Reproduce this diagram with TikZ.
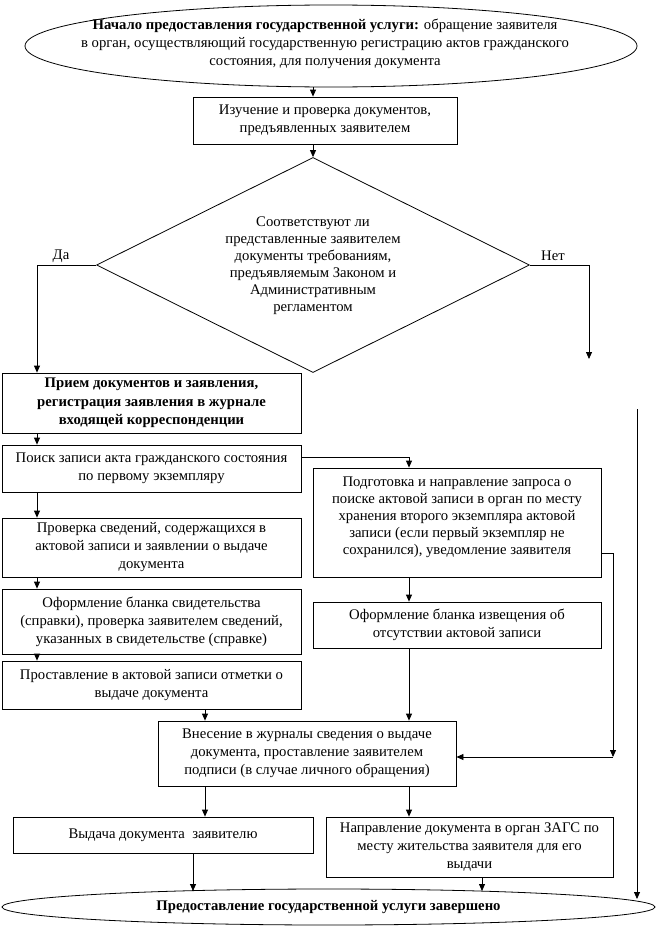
\documentclass[tikz,border=0pt]{standalone}
\usepackage{fontspec}
\setmainfont{Liberation Serif}
\usetikzlibrary{shapes.geometric,arrows.meta,calc}
\begin{document}
\begin{tikzpicture}[x=1pt,y=-1pt,
  line width=0.8pt,
  >={Triangle[length=7pt,width=6pt]},
  fnt/.style={font=\fontsize{14.7}{18}\selectfont},
  box/.style={draw, rectangle, inner sep=0pt, align=center, fnt},
  txt/.style={align=center, inner sep=0pt, fnt},
  oval/.style={draw, ellipse, inner sep=0pt}]
\useasboundingbox (0,0) rectangle (662,926);

% shapes
\node[oval, minimum width=612pt, minimum height=82pt] (start) at (331,46) {};
\node[txt] (starttxt) at (325,44) {\textbf{Начало предоставления государственной услуги:} обращение заявителя\\в орган, осуществляющий государственную регистрацию актов гражданского\\состояния, для получения документа};

\node[box, minimum width=264pt, minimum height=47pt] (check) at (325,120.5) {Изучение и проверка документов,\\предъявленных заявителем};

\node[draw, diamond, aspect=2, inner sep=0pt, minimum width=433pt, minimum height=215pt] (dec) at (313,265) {};
\node[txt, font=\fontsize{14.7}{17}\selectfont] (dectxt) at (313,266) {Соответствуют ли\\представленные заявителем\\документы требованиям,\\предъявляемым Законом и\\Административным\\регламентом};
\node[txt] (da) at (61,256) {Да};
\node[txt] (net) at (553,256) {Нет};

\node[box, minimum width=299pt, minimum height=60pt, font=\fontsize{14.7}{18.5}\selectfont\bfseries] (priem) at (151.5,403) {Прием документов и заявления,\\регистрация заявления в журнале\\входящей корреспонденции};
\node[box, minimum width=299pt, minimum height=47pt] (poisk) at (151.5,468.5) {Поиск записи акта гражданского состояния\\по первому экземпляру};
\node[box, minimum width=299pt, minimum height=59pt] (prov) at (151.5,547.5) {Проверка сведений, содержащихся в\\актовой записи и заявлении о выдаче\\документа};
\node[box, minimum width=299pt, minimum height=65pt] (oform) at (151.5,621.5) {Оформление бланка свидетельства\\(справки), проверка заявителем сведений,\\указанных в свидетельстве (справке)};
\node[box, minimum width=299pt, minimum height=48pt] (prost) at (151.5,685) {Проставление в актовой записи отметки о\\выдаче документа};

\node[box, minimum width=288pt, minimum height=109pt] (podg) at (457,522.5) {};
\node[txt, font=\fontsize{14.7}{17}\selectfont] (podgtxt) at (457,517.5) {Подготовка и направление запроса о\\поиске актовой записи в орган по месту\\хранения второго экземпляра актовой\\записи (если первый экземпляр не\\сохранился), уведомление заявителя};
\node[box, minimum width=288pt, minimum height=46pt] (izv) at (457,625) {Оформление бланка извещения об\\отсутствии актовой записи};

\node[box, minimum width=298pt, minimum height=65pt] (vnes) at (307,753.5) {Внесение в журналы сведения о выдаче\\документа, проставление заявителем\\подписи (в случае личного обращения)};

\node[box, minimum width=300pt, minimum height=36pt] (vyd) at (163,835) {Выдача документа\ \ заявителю};
\node[box, minimum width=287pt, minimum height=60pt] (napr) at (469.5,847) {Направление документа в орган ЗАГС по\\месту жительства заявителя для его\\выдачи};

\node[oval, minimum width=653pt, minimum height=36pt] (finish) at (328.5,907) {};
\node[txt, font=\fontsize{14.7}{18}\selectfont\bfseries] (finishtxt) at (328.5,907) {Предоставление государственной услуги завершено};

% free ends
\coordinate (netend) at (589,359);
\coordinate (rj) at (613,757);
\coordinate (rtop) at (637,409);
\coordinate (rbot) at (637,899);

% connectors
\draw[->] (313,0 |- start.south) -- (313,0 |- check.north);
\draw[->] (313,0 |- check.south) -- (dec.north);
\draw[->] (dec.west) -| (37,0 |- priem.north);
\draw[->] (dec.east) -| (netend);
\draw[->] (37,0 |- priem.south) -- (37,0 |- poisk.north);
\draw[->] (poisk.east |- 0,457) -| (409,0 |- podg.north);
\draw[->] (37,0 |- poisk.south) -- (37,0 |- prov.north);
\draw[->] (37,0 |- prov.south) -- (37,0 |- oform.north);
\draw[->] (37,0 |- oform.south) -- (37,0 |- prost.north);
\draw[->] (409,0 |- podg.south) -- (409,0 |- izv.north);
\draw[->] (409,0 |- izv.south) -- (409,0 |- vnes.north);
\draw[->] (205,0 |- prost.south) -- (205,0 |- vnes.north);
\draw[->] (podg.east |- 0,553) -| (rj);
\draw[->] (rj) -- (vnes.east |- rj);
\draw[->] (rtop) -- (rbot);
\draw[->] (205,0 |- vnes.south) -- (205,0 |- vyd.north);
\draw[->] (409,0 |- vnes.south) -- (409,0 |- napr.north);
\draw[->] (193,0 |- vyd.south) -- (193,891);
\draw[->] (482,0 |- napr.south) -- (482,891);
\end{tikzpicture}
\end{document}
